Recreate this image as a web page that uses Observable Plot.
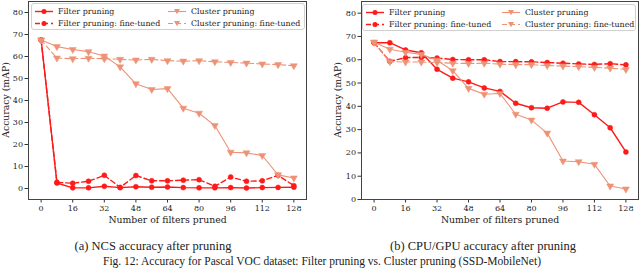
<!DOCTYPE html>
<html><head><meta charset="utf-8">
<script src="https://cdn.jsdelivr.net/npm/d3@7"></script>
<script src="https://cdn.jsdelivr.net/npm/@observablehq/plot@0.6"></script>
<style>
body{margin:0;background:#fff;}
#root{position:relative;width:640px;height:268px;overflow:hidden;font-family:"DejaVu Serif",serif;background:#fff;}
.panel{position:absolute;top:0;}
.cap{position:absolute;font-family:"Liberation Serif","Times New Roman",serif;font-size:12.5px;line-height:14px;white-space:nowrap;transform:translateX(-50%);color:#222;}
.ylab{position:absolute;font-family:"DejaVu Serif",serif;font-size:9.3px;line-height:10px;white-space:nowrap;color:#222;transform:translate(-50%,-50%) rotate(-90deg);}
.legend{position:absolute;border:1px solid #d0d0d0;border-radius:3px;background:rgba(255,255,255,0.85);}
.legend svg{position:absolute;left:0;top:0;overflow:visible;}
</style></head><body><div id="root"></div>
<script>
// ---- data ----
const pruned = [0, 8, 16, 24, 32, 40, 48, 56, 64, 72, 80, 88, 96, 104, 112, 120, 128];
const xTicks = [0, 16, 32, 48, 64, 80, 96, 112, 128];
const yTicks = [0, 10, 20, 30, 40, 50, 60, 70, 80];
const seriesNames = ["Filter pruning", "Filter pruning: fine-tuned", "Cluster pruning", "Cluster pruning: fine-tuned"];
const xLabel = "Number of filters pruned";
const yLabel = "Accuracy (mAP)";
const captions = ["(a) NCS accuracy after pruning", "(b) CPU/GPU accuracy after pruning"];
const figCaption = "Fig. 12: Accuracy for Pascal VOC dataset: Filter pruning vs. Cluster pruning (SSD-MobileNet)";

// NCS
const ncsFilter    = [67.5, 2.5, 0.3, 0.3, 1.0, 0.4, 0.8, 0.6, 0.7, 0.4, 0.3, 0.3, 0.4, 0.2, 0.4, 0.5, 0.6];
const ncsFilterFT  = [67.5, 2.8, 2.4, 3.3, 6.0, 0.5, 5.9, 3.5, 3.5, 3.8, 4.0, 1.0, 5.2, 3.3, 3.5, 6.0, 1.3];
const ncsCluster   = [67.5, 64.5, 63.2, 62.2, 60.2, 55.3, 47.6, 45.0, 45.4, 36.5, 34.2, 28.6, 16.5, 16.2, 15.0, 6.2, 4.8];
const ncsClusterFT = [67.5, 59.3, 59.0, 59.2, 59.0, 58.7, 58.4, 58.7, 58.1, 57.9, 58.1, 57.6, 57.3, 57.0, 56.6, 56.3, 55.8];
// CPU/GPU
const cpuFilter    = [67.3, 67.3, 64.2, 63.0, 55.9, 52.1, 50.5, 47.9, 46.4, 41.3, 39.4, 39.2, 41.9, 41.7, 36.4, 30.8, 20.4];
const cpuFilterFT  = [67.3, 59.3, 60.9, 61.0, 60.7, 60.1, 60.0, 60.0, 59.2, 59.2, 59.1, 58.8, 58.5, 58.2, 58.0, 58.3, 57.8];
const cpuCluster   = [67.5, 64.5, 63.2, 62.3, 59.8, 55.3, 47.7, 45.2, 45.5, 36.6, 34.1, 28.5, 16.5, 16.2, 15.1, 5.8, 4.5];
const cpuClusterFT = [67.5, 59.2, 59.0, 59.0, 58.8, 58.5, 58.4, 58.5, 58.1, 57.9, 57.9, 57.5, 57.3, 57.0, 56.7, 56.4, 55.8];

const RED = "#ff1a1a";
const SALMON = "#ee9276";
const styles = [
  {color: RED, dash: null, sym: "circle", r: 2.5, sw: 1.4, rot: 0},
  {color: RED, dash: "5,3", sym: "circle", r: 2.5, sw: 1.4, rot: 0},
  {color: SALMON, dash: null, sym: "triangle", r: 2.6, sw: 1.1, rot: 180},
  {color: SALMON, dash: "5,3", sym: "triangle", r: 2.6, sw: 1.1, rot: 180}
];

function panel(seriesVals, yDomain, marginLeft, marginRight) {
  const marks = [];
  seriesVals.forEach((vals, k) => {
    const st = styles[k];
    const data = vals.map((v, i) => ({x: pruned[i], y: v}));
    marks.push(Plot.line(data, {x: "x", y: "y", stroke: st.color, strokeWidth: st.sw, strokeDasharray: st.dash}));
    marks.push(Plot.dot(data, {x: "x", y: "y", symbol: st.sym, r: st.r, fill: st.color, stroke: st.color, strokeWidth: 0.5, rotate: st.rot}));
  });
  return Plot.plot({
    width: 320, height: 232,
    marginLeft, marginRight, marginTop: 1, marginBottom: 33,
    x: {domain: [-6.4, 134.4]},
    y: {domain: yDomain},
    style: {fontFamily: "DejaVu Serif", color: "#222", background: "transparent", overflow: "visible"},
    marks: [
      Plot.axisX({ticks: xTicks, tickSize: 3.5, tickPadding: 2, fontSize: 8, label: null, stroke: "#333"}),
      Plot.axisY({ticks: yTicks, tickSize: 3.5, tickPadding: 2, fontSize: 8, label: null, stroke: "#333"}),
      Plot.text([xLabel], {frameAnchor: "bottom", dy: 23, fontSize: 9.3, fill: "#222"}),
      ...marks,
      Plot.frame({stroke: "#444", strokeWidth: 1})
    ]
  });
}

const root = document.getElementById("root");
function place(el, left) { el.classList.add("panel"); el.style.left = left + "px"; root.appendChild(el); }

place(panel([ncsFilter, ncsFilterFT, ncsCluster, ncsClusterFT], [-5, 85], 28, 14), 0);
place(panel([cpuFilter, cpuFilterFT, cpuCluster, cpuClusterFT], [0, 85], 41, 2), 320);

function ylab(cx, cy) {
  const d = document.createElement("div");
  d.className = "ylab";
  d.textContent = yLabel;
  d.style.left = cx + "px"; d.style.top = cy + "px";
  root.appendChild(d);
}
ylab(6, 100);
ylab(338, 100);

function legend(left, top, w, h, col2) {
  const d = document.createElement("div");
  d.className = "legend";
  Object.assign(d.style, {left: left + "px", top: top + "px", width: w + "px", height: h + "px"});
  const ns = "http://www.w3.org/2000/svg";
  const svg = document.createElementNS(ns, "svg");
  svg.setAttribute("width", w); svg.setAttribute("height", h);
  d.appendChild(svg);
  const pos = [[3, 7.5], [3, 19.5], [col2, 7.5], [col2, 19.5]];
  seriesNames.forEach((name, k) => {
    const st = styles[k];
    const [x0, y0] = pos[k];
    const ln = document.createElementNS(ns, "line");
    ln.setAttribute("x1", x0); ln.setAttribute("x2", x0 + 18);
    ln.setAttribute("y1", y0); ln.setAttribute("y2", y0);
    ln.setAttribute("stroke", st.color); ln.setAttribute("stroke-width", st.sw);
    if (st.dash) ln.setAttribute("stroke-dasharray", st.dash);
    svg.appendChild(ln);
    let m;
    if (st.sym === "circle") {
      m = document.createElementNS(ns, "circle");
      m.setAttribute("cx", x0 + 9); m.setAttribute("cy", y0); m.setAttribute("r", st.r);
    } else {
      m = document.createElementNS(ns, "path");
      const cx = x0 + 9, s = 3;
      m.setAttribute("d", `M${cx - s},${y0 - s * 0.8}L${cx + s},${y0 - s * 0.8}L${cx},${y0 + s * 0.9}Z`);
    }
    m.setAttribute("fill", st.color);
    svg.appendChild(m);
    const t = document.createElementNS(ns, "text");
    t.setAttribute("x", x0 + 23); t.setAttribute("y", y0); t.setAttribute("dy", "0.35em");
    t.setAttribute("font-family", "DejaVu Serif"); t.setAttribute("font-size", "7.9");
    t.setAttribute("fill", "#222");
    t.textContent = name;
    svg.appendChild(t);
  });
  root.appendChild(d);
}
legend(31, 3, 272, 25, 136);
legend(362, 4, 272, 25, 139);

function caption(text, cx, top, size) {
  const c = document.createElement("div");
  c.className = "cap";
  c.textContent = text;
  c.style.left = cx + "px"; c.style.top = top + "px";
  if (size) c.style.fontSize = size + "px";
  root.appendChild(c);
}
caption(captions[0], 153, 239);
caption(captions[1], 483, 239);
caption(figCaption, 322, 254, 11.5);
</script>
</body></html>
